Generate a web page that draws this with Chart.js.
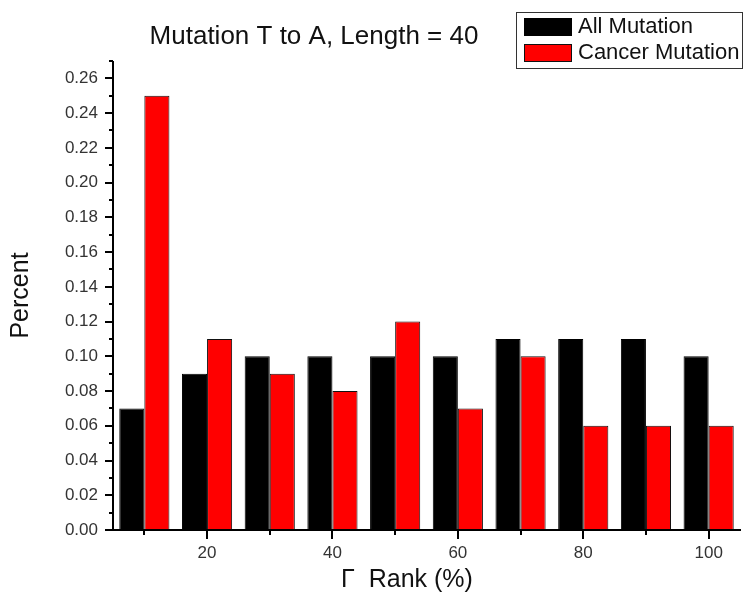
<!DOCTYPE html>
<html lang="en">
<head>
  <meta charset="UTF-8">
  <title>Mutation T to A, Length = 40</title>
  <script src="https://cdn.jsdelivr.net/npm/chart.js"></script>
  <style>
    html, body { margin: 0; padding: 0; background: #fff; }
  </style>
</head>
<body>
  <canvas id="rankChart" width="754" height="596"></canvas>

  <script>
    // Gamma rank bins (%) and share of mutations falling in each bin
    const rankBins = ['10', '20', '30', '40', '50', '60', '70', '80', '90', '100'];
    const allMutation = [0.07, 0.09, 0.10, 0.10, 0.10, 0.10, 0.11, 0.11, 0.11, 0.10];
    const cancerMutation = [0.25, 0.11, 0.09, 0.08, 0.12, 0.07, 0.10, 0.06, 0.06, 0.06];
    const yMax = 0.27;
    const yStep = 0.01;

    const FONT = "'Liberation Sans', Arial, sans-serif";

    // axis lines, tick marks, title and boxed legend
    const decorations = {
      id: 'decorations',
      afterDraw(chart) {
        const { ctx, chartArea: a, scales: { x, y } } = chart;
        ctx.save();
        ctx.strokeStyle = '#000';
        ctx.lineWidth = 2;

        ctx.beginPath();
        ctx.moveTo(a.left, a.top);
        ctx.lineTo(a.left, a.bottom);
        ctx.lineTo(a.right + 1, a.bottom);
        ctx.stroke();

        y.ticks.forEach(t => {
          const py = Math.round(y.getPixelForValue(t.value));
          const len = Math.round(t.value * 100) % 2 === 0 ? 8 : 4;
          ctx.beginPath();
          ctx.moveTo(a.left - len, py);
          ctx.lineTo(a.left, py);
          ctx.stroke();
        });

        x.ticks.forEach((t, i) => {
          const px = Math.round(x.getPixelForTick(i));
          const len = (i + 1) % 2 === 0 ? 9 : 5;
          ctx.beginPath();
          ctx.moveTo(px, a.bottom);
          ctx.lineTo(px, a.bottom + len);
          ctx.stroke();
        });

        // title
        ctx.fillStyle = '#111';
        ctx.font = '26px ' + FONT;
        ctx.textAlign = 'center';
        ctx.textBaseline = 'alphabetic';
        ctx.fillText('Mutation T to A, Length = 40', 314, 44);

        // x axis title
        ctx.font = '25px ' + FONT;
        ctx.fillText('\u0393  Rank (%)', 407, 587);

        // legend
        ctx.lineWidth = 1;
        ctx.strokeStyle = '#333';
        ctx.strokeRect(516.5, 12.5, 226, 56);
        ctx.font = '22px ' + FONT;
        ctx.textAlign = 'left';
        chart.data.datasets.forEach((ds, i) => {
          const top = 18 + i * 26;
          ctx.fillStyle = ds.backgroundColor;
          ctx.fillRect(524, top, 48, 18);
          ctx.strokeStyle = ds.borderColor;
          ctx.strokeRect(524.5, top + 0.5, 47, 17);
          ctx.fillStyle = '#111';
          ctx.fillText(ds.label, 578, top + 15);
        });
        ctx.restore();
      }
    };

    new Chart(document.getElementById('rankChart'), {
      type: 'bar',
      data: {
        labels: rankBins,
        datasets: [
          {
            label: 'All Mutation',
            data: allMutation,
            backgroundColor: '#000000',
            borderColor: '#000000',
            borderWidth: 1
          },
          {
            label: 'Cancer Mutation',
            data: cancerMutation,
            backgroundColor: '#ff0000',
            borderColor: '#111111',
            borderWidth: 1
          }
        ]
      },
      options: {
        responsive: false,
        animation: false,
        layout: { padding: { top: 61, right: 14, left: 0, bottom: 0 } },
        datasets: { bar: { categoryPercentage: 0.8, barPercentage: 1.0 } },
        plugins: {
          legend: { display: false },
          title: { display: false },
          tooltip: { enabled: false }
        },
        scales: {
          x: {
            offset: true,
            grid: { display: false, drawTicks: false },
            border: { display: false },
            ticks: {
              autoSkip: false,
              maxRotation: 0,
              padding: 13,
              color: '#333',
              font: { family: FONT, size: 17 },
              callback: (v, i) => (i + 1) % 2 === 0 ? rankBins[i] : ''
            },
            afterFit: s => { s.height = 66; }
          },
          y: {
            min: 0,
            max: yMax,
            grid: { display: false, drawTicks: false },
            border: { display: false },
            ticks: {
              stepSize: yStep,
              autoSkip: false,
              padding: 15,
              color: '#333',
              font: { family: FONT, size: 17 },
              callback: v => Math.round(v * 100) % 2 === 0 ? v.toFixed(2) : ''
            },
            title: {
              display: true,
              text: 'Percent',
              color: '#111',
              font: { family: FONT, size: 25 },
              padding: { top: 6, bottom: 0 }
            },
            afterFit: s => { s.width = 113; }
          }
        }
      },
      plugins: [decorations]
    });
  </script>
</body>
</html>
